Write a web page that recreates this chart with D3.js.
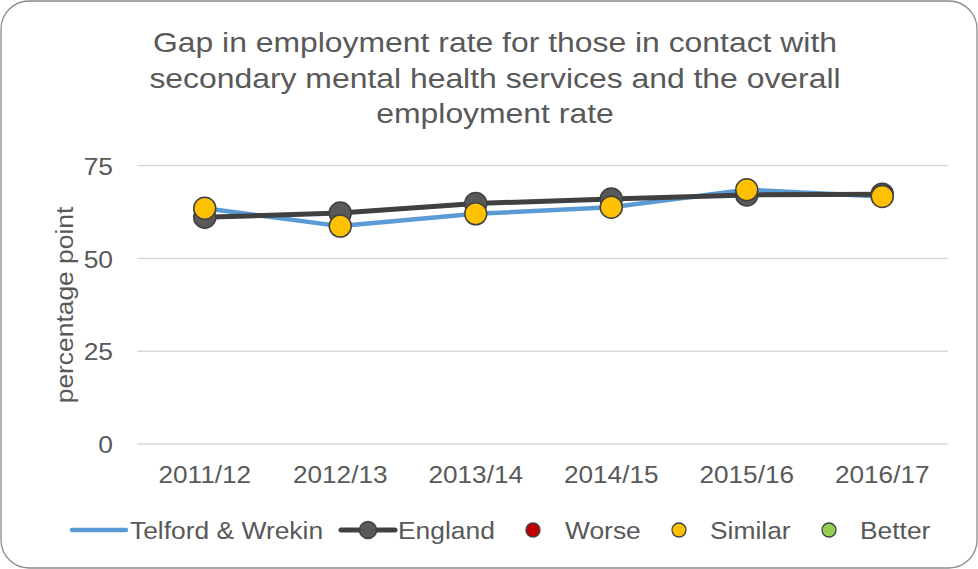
<!DOCTYPE html>
<html><head><meta charset="utf-8">
<script src="https://cdn.jsdelivr.net/npm/d3@7"></script>
<style>html,body{margin:0;padding:0;background:#fff}svg{display:block}text{font-family:"Liberation Sans",Arial,sans-serif;fill:#595959}</style>
</head><body><svg id="c" width="978" height="569"></svg>
<script>
const titleLines = ["Gap in employment rate for those in contact with","secondary mental health services and the overall","employment rate"];
const categories = ["2011/12","2012/13","2013/14","2014/15","2015/16","2016/17"];
const telford = [63.5, 58.7, 62.0, 63.8, 68.5, 66.7];
const england = [61.1, 62.2, 64.8, 66.0, 67.1, 67.3];
const telfordSignificance = ["Similar","Similar","Similar","Similar","Similar","Similar"];
const yTicks = [0, 25, 50, 75];
const legendItems = ["Telford & Wrekin","England","Worse","Similar","Better"];
const sigColors = {Worse:"#C00000", Similar:"#FFC000", Better:"#92D050"};

const svg = d3.select("#c");
function place(sel, x, y, sx, rot){
  sel.attr("x",0).attr("y",0).attr("transform",`translate(${x},${y})${rot?` rotate(${rot})`:""} scale(${sx},1)`);
}

svg.append("rect").attr("x",1).attr("y",1).attr("width",976).attr("height",567)
  .attr("rx",28).attr("ry",28).attr("fill","#fff").attr("stroke","#8c8c8c").attr("stroke-width",1.3);

titleLines.forEach((t,i)=>{
  svg.append("text").attr("text-anchor","middle").attr("font-size",27.5).text(t)
    .call(place,495,52+i*35.5,1.16);
});

const x = d3.scaleBand().domain(categories).range([137,950]);
const y = d3.scaleLinear().domain([0,75]).range([444,165.6]);

svg.append("g").selectAll("line").data(yTicks).join("line")
  .attr("x1",137).attr("x2",948).attr("y1",d=>y(d)).attr("y2",d=>y(d))
  .attr("stroke","#d9d9d9").attr("stroke-width",1.5);

const ya = svg.append("g").attr("transform","translate(113,0)")
  .call(d3.axisLeft(y).tickValues(yTicks).tickSize(0).tickPadding(0));
ya.select(".domain").remove();
ya.selectAll("text").attr("font-size",24).attr("fill","#595959").attr("font-family","Liberation Sans, Arial, sans-serif")
  .attr("x",0).attr("dy","0.36em").attr("transform","scale(1.1,1)");

const xa = svg.append("g").attr("transform","translate(0,483)")
  .call(d3.axisBottom(x).tickSize(0).tickPadding(0));
xa.select(".domain").remove();
xa.selectAll("text").attr("font-size",24).attr("fill","#595959").attr("font-family","Liberation Sans, Arial, sans-serif")
  .attr("y",0).attr("dy",0).attr("transform","scale(1.09,1)");

svg.append("text").attr("text-anchor","middle").attr("font-size",24).text("percentage point")
  .call(place,73,305,1.1,-90);

const cx = d=>x(d)+x.bandwidth()/2;
const lineT = d3.line().x((d,i)=>cx(categories[i])).y(d=>y(d));
svg.append("path").datum(telford).attr("d",lineT).attr("fill","none")
  .attr("stroke","#5B9BD5").attr("stroke-width",4.5).attr("stroke-linejoin","round");
svg.append("path").datum(england).attr("d",lineT).attr("fill","none")
  .attr("stroke","#404040").attr("stroke-width",5).attr("stroke-linejoin","round");
svg.append("g").selectAll("circle").data(england).join("circle")
  .attr("cx",(d,i)=>cx(categories[i])).attr("cy",d=>y(d)).attr("r",11)
  .attr("fill","#595959").attr("stroke","#404040").attr("stroke-width",1.5);
svg.append("g").selectAll("circle").data(telford).join("circle")
  .attr("cx",(d,i)=>cx(categories[i])).attr("cy",d=>y(d)).attr("r",11)
  .attr("fill",(d,i)=>sigColors[telfordSignificance[i]]).attr("stroke","#404040").attr("stroke-width",1.5);

const lg = svg.append("g");
const ly = 530;
lg.append("line").attr("x1",72).attr("x2",126).attr("y1",ly).attr("y2",ly).attr("stroke","#5B9BD5").attr("stroke-width",4.5).attr("stroke-linecap","round");
lg.append("text").attr("font-size",24).text(legendItems[0]).call(place,130,ly+9,1.1);
lg.append("line").attr("x1",341).attr("x2",395).attr("y1",ly).attr("y2",ly).attr("stroke","#404040").attr("stroke-width",5).attr("stroke-linecap","round");
lg.append("circle").attr("cx",368).attr("cy",ly).attr("r",8.5).attr("fill","#595959").attr("stroke","#404040").attr("stroke-width",1.5);
lg.append("text").attr("font-size",24).text(legendItems[1]).call(place,398,ly+9,1.1);
const sigPos = [[533,565],[679,710],[829,860]];
["Worse","Similar","Better"].forEach((k,i)=>{
  lg.append("circle").attr("cx",sigPos[i][0]).attr("cy",ly).attr("r",7).attr("fill",sigColors[k]).attr("stroke","#404040").attr("stroke-width",1.3);
  lg.append("text").attr("font-size",24).text(k).call(place,sigPos[i][1],ly+9,1.1);
});
</script></body></html>
